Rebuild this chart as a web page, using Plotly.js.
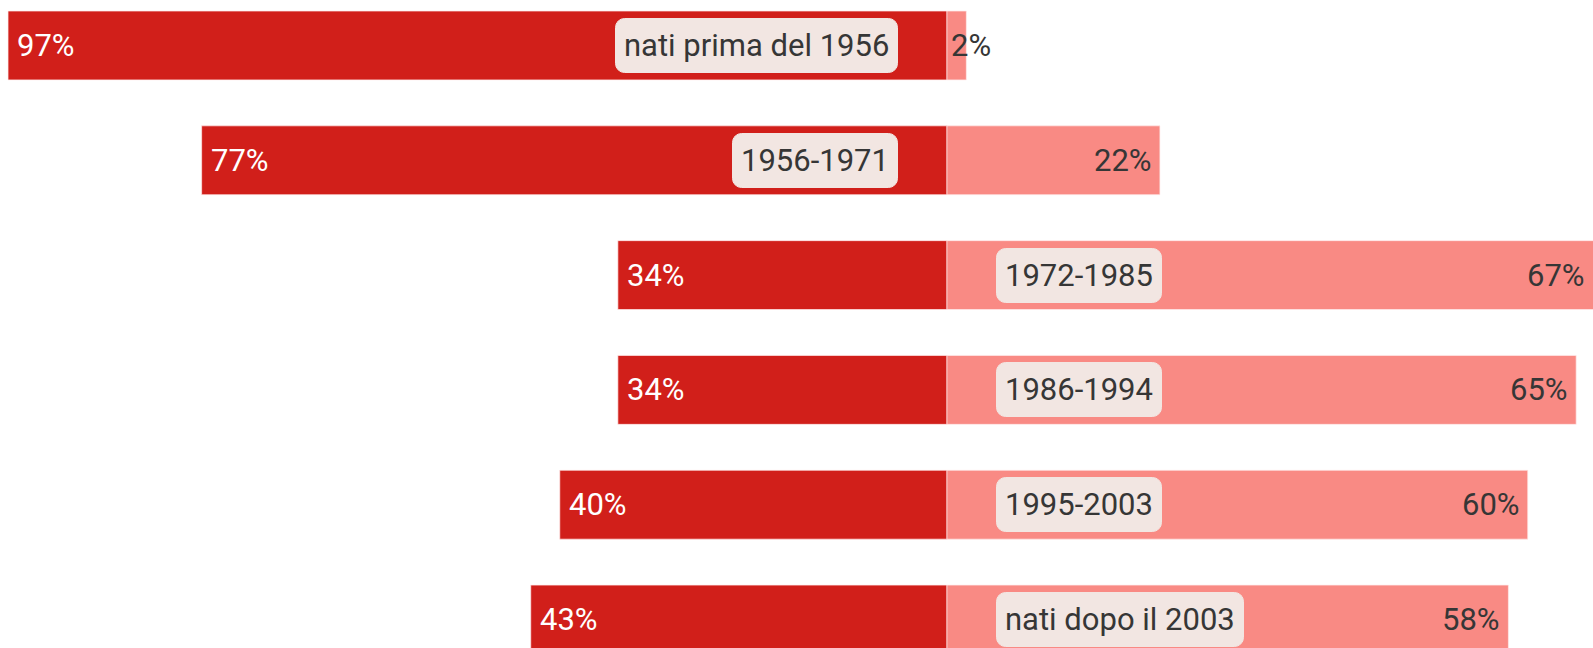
<!DOCTYPE html>
<html>
<head>
<meta charset="utf-8">
<script src="https://cdn.plot.ly/plotly-3.0.1.min.js"></script>
<style>
html,body{margin:0;padding:0;background:#fff;}
#chart{width:1593px;height:648px;}
</style>
</head>
<body>
<div id="chart"></div>
<script>
const categories = ["nati prima del 1956", "1956-1971", "1972-1985", "1986-1994", "1995-2003", "nati dopo il 2003"];
const leftValues = [97, 77, 34, 34, 40, 43];
const rightValues = [2, 22, 67, 65, 60, 58];

const darkRed = "#d11f1a";
const lightRed = "#f98a84";
const labelBg = "#f2e6e2";
const textDark = "#363636";
const FONT = "Roboto, 'Open Sans', sans-serif";
const FS = 31;
const X_RANGE = [-97.83, 66.74];

const traces = [
  {
    type: "bar", orientation: "h",
    y: categories, x: leftValues.map(v => -v),
    marker: {color: darkRed, line: {color: "rgba(255,235,235,0.7)", width: 1}},
    width: 0.6, hoverinfo: "skip", showlegend: false
  },
  {
    type: "bar", orientation: "h",
    y: categories, x: rightValues,
    marker: {color: lightRed, line: {color: "rgba(255,235,235,0.7)", width: 1}},
    width: 0.6, hoverinfo: "skip", showlegend: false
  }
];

const annotations = [];
categories.forEach((c, i) => {
  annotations.push({
    x: Math.max(-leftValues[i], X_RANGE[0]), y: c, xref: "x", yref: "y",
    text: leftValues[i] + "%", showarrow: false,
    xanchor: "left", yanchor: "middle", xshift: 7,
    font: {family: FONT, size: FS, color: "#ffffff"}
  });
  const small = rightValues[i] < 6;
  annotations.push({
    x: small ? 0 : Math.min(rightValues[i], X_RANGE[1]), y: c, xref: "x", yref: "y",
    text: rightValues[i] + "%", showarrow: false,
    xanchor: small ? "left" : "right", yanchor: "middle", xshift: small ? 2 : -6,
    font: {family: FONT, size: FS, color: textDark}
  });
  const onLeft = leftValues[i] > rightValues[i];
  annotations.push({
    x: 0, y: c, xref: "x", yref: "y",
    text: c, showarrow: false,
    xanchor: onLeft ? "right" : "left", yanchor: "middle",
    xshift: onLeft ? -49 : 49,
    bgcolor: labelBg, borderpad: 8, borderwidth: 1, bordercolor: labelBg,
    font: {family: FONT, size: FS, color: textDark}
  });
});

const layout = {
  width: 1593, height: 648,
  margin: {l: 0, r: 0, t: 0, b: 0, pad: 0},
  paper_bgcolor: "#ffffff", plot_bgcolor: "#ffffff",
  barmode: "relative",
  xaxis: {range: X_RANGE, showgrid: false, zeroline: false, showticklabels: false, showline: false, fixedrange: true},
  yaxis: {type: "category", range: [5.248, -0.396], showgrid: false, zeroline: false, showticklabels: false, showline: false, fixedrange: true},
  annotations: annotations,
  showlegend: false
};

Plotly.newPlot("chart", traces, layout, {displayModeBar: false, staticPlot: true}).then(() => {
  document.querySelectorAll("g.annotation rect.bg").forEach(r => {
    r.setAttribute("rx", 9);
    r.setAttribute("ry", 9);
  });
});
</script>
</body>
</html>
